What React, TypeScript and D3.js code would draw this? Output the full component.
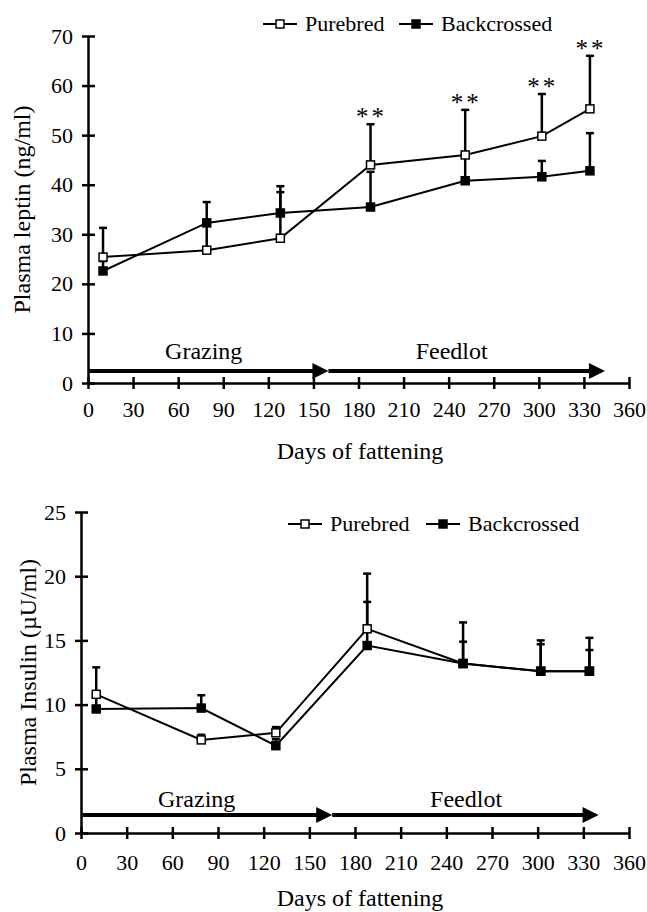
import React, { useEffect, useRef } from "react";
import * as d3 from "d3";

// sampling days (same for both panels)
const days = [10, 79, 128, 188, 251, 302, 334];

// plasma leptin (ng/ml), mean and upper SD
const leptinPurebred = [25.4, 26.8, 29.2, 44.0, 46.0, 49.8, 55.3];
const leptinPurebredErr = [5.9, 5.2, 10.5, 8.2, 9.1, 8.5, 10.7];
const leptinBackcrossed = [22.6, 32.3, 34.3, 35.5, 40.8, 41.6, 42.8];
const leptinBackcrossedErr = [2.0, 4.2, 4.2, 7.1, 4.8, 3.2, 7.6];
const leptinStars = ["", "", "", "**", "**", "**", "**"];

// plasma insulin (µU/ml)
const insulinPurebred = [10.8, 7.25, 7.8, 15.9, 13.2, 12.6, 12.6];
const insulinPurebredErr = [2.1, 0.4, 0.45, 4.3, 3.2, 2.4, 2.6];
const insulinBackcrossed = [9.66, 9.73, 6.8, 14.6, 13.2, 12.6, 12.6];
const insulinBackcrossedErr = [0.9, 1.0, 0.5, 3.4, 1.7, 2.1, 1.65];

const xTicks = [0, 30, 60, 90, 120, 150, 180, 210, 240, 270, 300, 330, 360];
const leptinTicks = [0, 10, 20, 30, 40, 50, 60, 70];
const insulinTicks = [0, 5, 10, 15, 20, 25];

const phaseNames = ["Grazing", "Feedlot"];
const leptinPhaseStart = [0, 160];
const leptinPhaseEnd = [160, 344];
const leptinPhaseLabel = [77, 242];
const insulinPhaseStart = [1, 165];
const insulinPhaseEnd = [165, 340];
const insulinPhaseLabel = [76, 253];

const seriesNames = ["Purebred", "Backcrossed"];

const FONT = "'Liberation Serif', 'Times New Roman', serif";

interface PanelCfg {
  xRange: [number, number];
  yRange: [number, number];
  yMax: number;
  yTicks: number[];
  yLabel: string;
  yLabelX: number;
  pure: number[];
  pureErr: number[];
  back: number[];
  backErr: number[];
  stars?: string[];
  phaseStart: number[];
  phaseEnd: number[];
  phaseLabel: number[];
  arrowY: number;
  phaseTextY: number;
  legendY: number;
  legendX: [number, number];
  titleY: number;
  tickGap: number;
}

function drawPanel(svg: d3.Selection<SVGSVGElement, unknown, null, undefined>, c: PanelCfg) {
  const g = svg.append("g");
  const x = d3.scaleLinear().domain([0, 360]).range(c.xRange);
  const y = d3.scaleLinear().domain([0, c.yMax]).range(c.yRange);

  // axes
  const yAxis = g
    .append("g")
    .attr("transform", `translate(${c.xRange[0]},0)`)
    .call(d3.axisLeft(y).tickValues(c.yTicks).tickSize(6).tickSizeOuter(0).tickPadding(9));
  yAxis.selectAll(".tick line").attr("x1", 7);
  const xAxis = g
    .append("g")
    .attr("transform", `translate(0,${c.yRange[0]})`)
    .call(d3.axisBottom(x).tickValues(xTicks).tickSize(6).tickSizeOuter(0).tickPadding(c.tickGap));
  xAxis.selectAll(".tick line").attr("y1", -6);
  [yAxis, xAxis].forEach((a) => {
    a.select(".domain").attr("stroke", "#000").attr("stroke-width", 2.5);
    a.selectAll(".tick line").attr("stroke", "#000").attr("stroke-width", 2.5);
    a.selectAll("text")
      .attr("fill", "#000")
      .style("font-family", FONT)
      .style("font-size", "22px");
  });

  // axis titles
  g.append("text")
    .attr("transform", `translate(${c.yLabelX},${(c.yRange[0] + c.yRange[1]) / 2}) rotate(-90)`)
    .attr("text-anchor", "middle")
    .attr("dy", "0.35em")
    .style("font-family", FONT)
    .style("font-size", "24px")
    .text(c.yLabel);
  g.append("text")
    .attr("x", 360)
    .attr("y", c.titleY)
    .attr("text-anchor", "middle")
    .style("font-family", FONT)
    .style("font-size", "24px")
    .text("Days of fattening");

  // phase arrows
  phaseNames.forEach((name, i) => {
    const x0 = x(c.phaseStart[i]);
    const x1 = x(c.phaseEnd[i]);
    const ay = y(c.arrowY);
    g.append("line")
      .attr("x1", x0)
      .attr("x2", x1 - 12)
      .attr("y1", ay)
      .attr("y2", ay)
      .attr("stroke", "#000")
      .attr("stroke-width", 4);
    g.append("path")
      .attr("d", `M${x1},${ay} L${x1 - 16},${ay - 8} L${x1 - 16},${ay + 8} Z`)
      .attr("fill", "#000");
    g.append("text")
      .attr("x", x(c.phaseLabel[i]))
      .attr("y", c.phaseTextY)
      .attr("text-anchor", "middle")
      .style("font-family", FONT)
      .style("font-size", "24px")
      .text(name);
  });

  const series = [
    { vals: c.pure, err: c.pureErr, fill: "#fff" },
    { vals: c.back, err: c.backErr, fill: "#000" },
  ];

  // error bars (upper only)
  series.forEach((s) => {
    s.vals.forEach((v, i) => {
      const px = x(days[i]);
      const top = y(v + s.err[i]);
      g.append("line")
        .attr("x1", px)
        .attr("x2", px)
        .attr("y1", y(v))
        .attr("y2", top)
        .attr("stroke", "#000")
        .attr("stroke-width", 2.5);
      g.append("line")
        .attr("x1", px - 4)
        .attr("x2", px + 4)
        .attr("y1", top)
        .attr("y2", top)
        .attr("stroke", "#000")
        .attr("stroke-width", 2.5);
    });
  });

  const line = d3
    .line<number>()
    .x((_, i) => x(days[i]))
    .y((d) => y(d));

  series.forEach((s) => {
    g.append("path")
      .datum(s.vals)
      .attr("fill", "none")
      .attr("stroke", "#000")
      .attr("stroke-width", 2)
      .attr("d", line);
  });

  series.forEach((s) => {
    g.selectAll(null)
      .data(s.vals)
      .enter()
      .append("rect")
      .attr("x", (_, i) => x(days[i]) - 4)
      .attr("y", (d) => y(d) - 4)
      .attr("width", 8)
      .attr("height", 8)
      .attr("fill", s.fill)
      .attr("stroke", "#000")
      .attr("stroke-width", 1.5);
  });

  if (c.stars) {
    c.stars.forEach((st, i) => {
      if (!st) return;
      g.append("text")
        .attr("x", x(days[i]) + 1)
        .attr("y", y(c.pure[i] + c.pureErr[i]) + 1)
        .attr("text-anchor", "middle")
        .style("font-family", FONT)
        .style("font-size", "25px")
        .style("letter-spacing", "3px")
        .text(st);
    });
  }

  // legend
  series.forEach((s, i) => {
    const lx = c.legendX[i];
    g.append("line")
      .attr("x1", lx)
      .attr("x2", lx + 34)
      .attr("y1", c.legendY)
      .attr("y2", c.legendY)
      .attr("stroke", "#000")
      .attr("stroke-width", 2);
    g.append("rect")
      .attr("x", lx + 13)
      .attr("y", c.legendY - 4)
      .attr("width", 8)
      .attr("height", 8)
      .attr("fill", s.fill)
      .attr("stroke", "#000")
      .attr("stroke-width", 1.5);
    g.append("text")
      .attr("x", lx + 42)
      .attr("y", c.legendY)
      .attr("dy", "0.33em")
      .style("font-family", FONT)
      .style("font-size", "22px")
      .text(seriesNames[i]);
  });
}

export default function App() {
  const svgRef = useRef<SVGSVGElement | null>(null);

  useEffect(() => {
    if (!svgRef.current) return;
    const svg = d3.select(svgRef.current);
    svg.selectAll("*").remove();

    drawPanel(svg, {
      xRange: [88, 629],
      yRange: [383, 36],
      yMax: 70,
      yTicks: leptinTicks,
      yLabel: "Plasma leptin (ng/ml)",
      yLabelX: 22,
      pure: leptinPurebred,
      pureErr: leptinPurebredErr,
      back: leptinBackcrossed,
      backErr: leptinBackcrossedErr,
      stars: leptinStars,
      phaseStart: leptinPhaseStart,
      phaseEnd: leptinPhaseEnd,
      phaseLabel: leptinPhaseLabel,
      arrowY: 2.4,
      phaseTextY: 359,
      legendY: 24,
      legendX: [263, 399],
      titleY: 459,
      tickGap: 12,
    });

    drawPanel(svg, {
      xRange: [81, 629],
      yRange: [833, 512],
      yMax: 25,
      yTicks: insulinTicks,
      yLabel: "Plasma Insulin (\u00b5U/ml)",
      yLabelX: 28,
      pure: insulinPurebred,
      pureErr: insulinPurebredErr,
      back: insulinBackcrossed,
      backErr: insulinBackcrossedErr,
      phaseStart: insulinPhaseStart,
      phaseEnd: insulinPhaseEnd,
      phaseLabel: insulinPhaseLabel,
      arrowY: 1.4,
      phaseTextY: 807,
      legendY: 524,
      legendX: [288, 426],
      titleY: 906,
      tickGap: 15,
    });
  }, []);

  return (
    <div style={{ position: "absolute", left: 0, top: 0, background: "#fff" }}>
      <svg ref={svgRef} width={647} height={912} style={{ display: "block" }}></svg>
    </div>
  );
}
